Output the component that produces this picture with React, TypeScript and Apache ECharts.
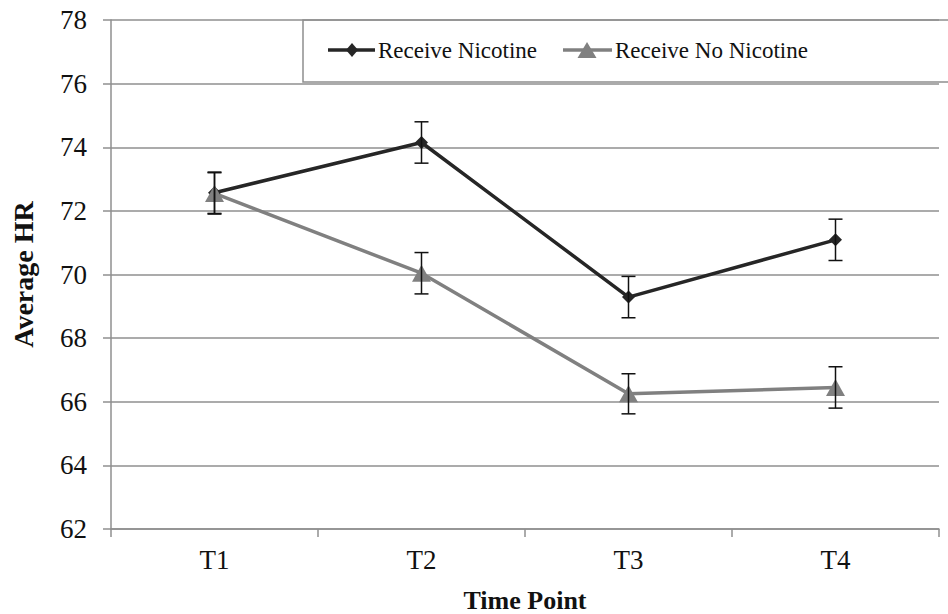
import React, { useEffect, useRef } from "react";
import * as echarts from "echarts";

const categories = ["T1", "T2", "T3", "T4"];
const seriesNames = ["Receive Nicotine", "Receive No Nicotine"];
const nicotine = [72.57, 74.15, 69.29, 71.09];
const noNicotine = [72.55, 70.04, 66.25, 66.45];
const nicotineErr = [0.65, 0.65, 0.65, 0.65];
const noNicotineErr = [0.65, 0.65, 0.63, 0.65];
const yTicks = { min: 62, max: 78, interval: 2 };

const FONT = "Liberation Serif";
const GRID_COLOR = "#8f8f8f";
const DARK = "#262626";
const GRAY = "#808080";

function errData(vals: number[], errs: number[]) {
  return vals.map((v, i) => [i, v - errs[i], v + errs[i]]);
}

function renderErr(params: any, api: any) {
  const i = api.value(0);
  const lo = api.coord([i, api.value(1)]);
  const hi = api.coord([i, api.value(2)]);
  const cap = 7;
  const style = { stroke: "#111", lineWidth: 1.5 };
  return {
    type: "group",
    children: [
      { type: "line", shape: { x1: hi[0], y1: hi[1], x2: lo[0], y2: lo[1] }, style },
      { type: "line", shape: { x1: hi[0] - cap, y1: hi[1], x2: hi[0] + cap, y2: hi[1] }, style },
      { type: "line", shape: { x1: lo[0] - cap, y1: lo[1], x2: lo[0] + cap, y2: lo[1] }, style },
    ],
  };
}

export default function App() {
  const ref = useRef<HTMLDivElement>(null);
  useEffect(() => {
    if (!ref.current) return;
    const chart = echarts.init(ref.current, undefined, { renderer: "svg" });
    const legendTextStyle = (text: string) => ({
      text,
      fontFamily: FONT,
      fontSize: 23,
      fill: "#111",
      verticalAlign: "middle",
      align: "left",
    });
    const ly = 50;
    chart.setOption({
      animation: false,
      backgroundColor: "#ffffff",
      textStyle: { fontFamily: FONT },
      grid: {
        left: 111,
        top: 20,
        width: 828,
        height: 509,
        containLabel: false,
        outerBoundsMode: "none",
      },
      graphic: [
        {
          type: "group",
          z: 10,
          children: [
            {
              type: "rect",
              shape: { x: 303, y: 20, width: 700, height: 62 },
              style: { fill: "#ffffff", stroke: GRID_COLOR, lineWidth: 1.5 },
            },
            {
              type: "line",
              shape: { x1: 328, y1: ly, x2: 375, y2: ly },
              style: { stroke: DARK, lineWidth: 3.5 },
            },
            {
              type: "polygon",
              shape: { points: [[352, ly - 7], [358, ly], [352, ly + 7], [346, ly]] },
              style: { fill: DARK },
            },
            {
              type: "text",
              x: 378,
              y: ly,
              style: legendTextStyle(seriesNames[0]),
            },
            {
              type: "line",
              shape: { x1: 563, y1: ly, x2: 612, y2: ly },
              style: { stroke: GRAY, lineWidth: 3.5 },
            },
            {
              type: "polygon",
              shape: { points: [[587, ly - 8], [596.5, ly + 8], [577.5, ly + 8]] },
              style: { fill: GRAY },
            },
            {
              type: "text",
              x: 615,
              y: ly,
              style: legendTextStyle(seriesNames[1]),
            },
          ],
        },
      ],
      xAxis: {
        type: "category",
        data: categories,
        boundaryGap: true,
        name: "Time Point",
        nameLocation: "middle",
        nameGap: 58,
        nameTextStyle: { fontFamily: FONT, fontSize: 26, fontWeight: "bold", color: "#111" },
        axisLine: { lineStyle: { color: GRID_COLOR, width: 1.5 } },
        axisTick: { show: true, length: 8, lineStyle: { color: GRID_COLOR, width: 1.5 } },
        axisLabel: { fontFamily: FONT, fontSize: 27, color: "#111", margin: 17 },
        splitLine: { show: false },
      },
      yAxis: {
        type: "value",
        min: yTicks.min,
        max: yTicks.max,
        interval: yTicks.interval,
        name: "Average HR",
        nameLocation: "middle",
        nameGap: 74,
        nameRotate: 90,
        nameTextStyle: { fontFamily: FONT, fontSize: 28, fontWeight: "bold", color: "#111" },
        axisLine: { show: true, lineStyle: { color: GRID_COLOR, width: 1.5 } },
        axisTick: { show: true, length: 8, lineStyle: { color: GRID_COLOR, width: 1.5 } },
        axisLabel: { fontFamily: FONT, fontSize: 27, color: "#111", margin: 24 },
        splitLine: { show: true, lineStyle: { color: GRID_COLOR, width: 1.5 } },
      },
      series: [
        {
          name: seriesNames[0],
          type: "line",
          data: nicotine,
          z: 3,
          symbol: "diamond",
          symbolSize: 13,
          lineStyle: { color: DARK, width: 3.5 },
          itemStyle: { color: DARK },
        },
        {
          name: seriesNames[1],
          type: "line",
          data: noNicotine,
          z: 3,
          symbol: "triangle",
          symbolSize: [19, 17],
          lineStyle: { color: GRAY, width: 3.5 },
          itemStyle: { color: GRAY },
        },
        {
          type: "custom",
          z: 4,
          data: errData(nicotine, nicotineErr),
          renderItem: renderErr,
          silent: true,
        },
        {
          type: "custom",
          z: 4,
          data: errData(noNicotine, noNicotineErr),
          renderItem: renderErr,
          silent: true,
        },
      ],
    });
    return () => chart.dispose();
  }, []);
  return (
    <div
      ref={ref}
      style={{ position: "fixed", left: 0, top: 0, width: 948, height: 614, background: "#fff" }}
    />
  );
}
